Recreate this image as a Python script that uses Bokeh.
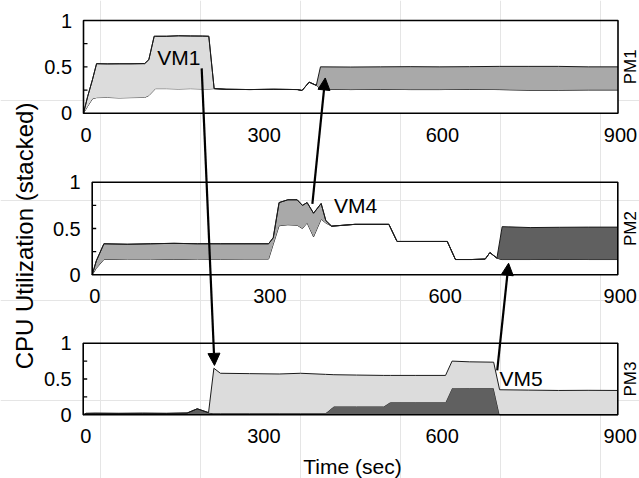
import math
import sys
import traceback
import numpy as np
from bokeh.plotting import figure
from bokeh.models import Range1d, ColumnDataSource, Arrow, NormalHead
from bokeh.core.properties import value
from bokeh.embed import file_html
from bokeh.resources import INLINE

# ---------------- data ----------------
x_ticks = [0, 300, 600, 900]
x_tick_labels = ["0", "300", "600", "900"]
y_ticks = [0, 0.5, 1]
y_tick_labels = ["0", "0.5", "1"]
y_minor_ticks = [0.25, 0.5, 0.75]
pm_names = ["PM1", "PM2", "PM3"]

# PM1: background load, VM1 (leaves ~220 s), VM4 (arrives ~395 s)
pm1_t = [0, 7, 15, 22, 40, 60, 80, 103, 110, 119, 121, 140, 160, 180, 200, 211, 220, 240,
         280, 320, 360, 368, 380, 392, 399, 450, 500, 550, 600, 650, 700, 750, 800, 850, 900]
pm1_base = [0, .075, .155, .168, .170, .165, .168, .170, .190, .250, .265, .265, .262, .265, .262,
            .262, .265, .258, .255, .258, .255, .245, .335, .300, .262, .255, .258, .255, .255,
            .258, .255, .250, .250, .252, .252]
pm1_vm1 = [0, .105, .205, .366, .362, .368, .365, .365, .387, .580, .565, .565, .573, .568, .570,
           .568, 0, 0, 0, 0, 0, 0, 0, 0, 0, 0, 0, 0, 0, 0, 0, 0, 0, 0, 0]
pm1_vm4 = [0, 0, 0, 0, 0, 0, 0, 0, 0, 0, 0, 0, 0, 0, 0, 0, 0, 0, 0, 0, 0, 0, 0, 0,
           .238, .243, .242, .247, .245, .244, .250, .255, .255, .248, .248]

# PM2: background load, VM4 (leaves ~405 s), VM5 (arrives ~695 s)
pm2_t = [0, 7, 20, 60, 100, 140, 180, 220, 260, 302, 310, 320, 335, 351, 360, 368, 379, 392,
         400, 410, 450, 508, 522, 560, 608, 622, 650, 673, 681, 693, 702, 750, 800, 850, 900]
pm2_base = [0, .07, .165, .17, .17, .165, .17, .168, .17, .17, .33, .53, .54, .535, .50, .56, .41,
            .60, .56, .525, .545, .545, .36, .36, .36, .165, .165, .17, .24, .18, .165, .165, .168,
            .165, .165]
pm2_vm4 = [0, .08, .17, .16, .165, .175, .165, .167, .165, .165, .07, .25, .27, .275, .25, .22,
           .255, .17, .026, 0, 0, 0, 0, 0, 0, 0, 0, 0, 0, 0, 0, 0, 0, 0, 0]
pm2_vm5 = [0, 0, 0, 0, 0, 0, 0, 0, 0, 0, 0, 0, 0, 0, 0, 0, 0, 0, 0, 0, 0, 0, 0, 0, 0, 0, 0, 0,
           0, 0, .355, .345, .345, .35, .35]

# PM3: VM5 (leaves ~700 s), VM1 (arrives ~215 s)
pm3_t = [0, 5, 20, 60, 100, 140, 175, 192, 211, 220, 231, 280, 330, 366, 408, 422, 460, 506,
         517, 560, 610, 621, 650, 691, 701, 750, 800, 850, 900]
pm3_vm5 = [0, .02, .022, .02, .022, .02, .025, .084, .03, .02, .02, .02, .02, .02, .02, .116,
           .116, .116, .176, .176, .176, .372, .37, .37, 0, 0, 0, 0, 0]
pm3_vm1 = [0, 0, 0, 0, 0, 0, 0, 0, 0, .63, .56, .555, .55, .56, .545, .444, .439, .434, .374,
           .374, .374, .378, .37, .365, .35, .345, .34, .342, .34]

# VM name labels: (panel, time of left edge, utilization of text centre)
vm_labels = ["VM1", "VM4", "VM5"]
vm_label_pos = [("PM1", 124, 0.603), ("PM2", 414, 0.75), ("PM3", 701, 0.504)]

# migration arrows: (panel, time, util) -> (panel, time, util)
migrations = [
    (("PM1", 199, 0.484), ("PM3", 221, 0.69)),
    (("PM2", 377, 0.767), ("PM1", 407, 0.38)),
    (("PM3", 697, 0.62), ("PM2", 713, 0.125)),
]

y_title = "CPU Utilization (stacked)"
x_title = "Time (sec)"

# ---------------- layout (canvas pixels) ----------------
W, H = 639, 478
T_MAX = 900
PANELS = {
    "PM1": dict(left=83.0, right=617.5, top=20.0, bottom=112.7),
    "PM2": dict(left=91.7, right=617.3, top=181.7, bottom=274.3),
    "PM3": dict(left=82.7, right=617.3, top=342.7, bottom=414.3),
}
FONT = "Liberation Sans"
C_LIGHT, C_MID, C_DARK = "#dcdcdc", "#a9a9a9", "#606060"
EDGE = "#1a1a1a"


def x_range_for(b):
    s = (b["right"] - b["left"]) / T_MAX
    return Range1d(start=-b["left"] / s, end=T_MAX + (W - b["right"]) / s)


def y_range_for(b):
    h = b["bottom"] - b["top"]
    return Range1d(start=(b["bottom"] - H) / h, end=b["bottom"] / h)


def to_px(name, t, u):
    b = PANELS[name]
    return (b["left"] + t * (b["right"] - b["left"]) / T_MAX,
            b["bottom"] - u * (b["bottom"] - b["top"]))


def build():
    xr = {"x" + n: x_range_for(PANELS[n]) for n in pm_names}
    yr = {"y" + n: y_range_for(PANELS[n]) for n in pm_names}
    p = figure(width=W, height=H, output_backend="svg", toolbar_location=None,
               x_range=Range1d(start=0, end=W), y_range=Range1d(start=H, end=0),
               x_axis_location=None, y_axis_location=None, min_border=0)
    p.extra_x_ranges = xr
    p.extra_y_ranges = yr
    p.outline_line_color = None
    p.background_fill_color = "white"
    p.border_fill_color = "white"

    panel_data = {
        "PM1": ([pm1_base, pm1_vm1, pm1_vm4], ["white", C_LIGHT, C_MID], pm1_t),
        "PM2": ([pm2_base, pm2_vm4, pm2_vm5], ["white", C_MID, C_DARK], pm2_t),
        "PM3": ([pm3_vm5, pm3_vm1], [C_DARK, C_LIGHT], pm3_t),
    }
    txt = dict(text_font=value(FONT), text_color="black", text_baseline="middle")

    for name in pm_names:
        layers, colors, ts = panel_data[name]
        rn = dict(x_range_name="x" + name, y_range_name="y" + name)
        lower = np.zeros(len(ts))
        for lay, col in zip(layers, colors):
            upper = lower + np.asarray(lay, dtype=float)
            src = ColumnDataSource(dict(t=list(ts), lo=list(lower), hi=list(upper)))
            p.varea(x="t", y1="lo", y2="hi", fill_color=col, source=src, **rn)
            p.line(x="t", y="hi", line_color=EDGE, line_width=1, source=src, **rn)
            lower = upper
        p.quad(left=[0], right=[T_MAX], bottom=[0], top=[1], fill_color=None,
               line_color="black", line_width=1.6, **rn)
        p.ray(x=[0] * len(y_minor_ticks), y=y_minor_ticks, length=4, length_units="screen",
              angle=0, line_color="black", line_width=1.3, **rn)

        yx, yy = [], []
        for u in y_ticks:
            px, py = to_px(name, 0, u)
            yx.append(px - 11.5)
            yy.append(py)
        p.text(x=yx, y=yy, text=y_tick_labels, text_align="right",
               text_font_size="20px", **txt)
        xx, xy = [], []
        for t in x_ticks:
            px, py = to_px(name, t, 0)
            xx.append(px + 2.5)
            xy.append(py + 21.4)
        p.text(x=xx, y=xy, text=x_tick_labels, text_align="center",
               text_font_size="20px", **txt)
        _, cy = to_px(name, T_MAX, 0.5)
        p.text(x=[W - 9.5], y=[cy], text=[name], angle=math.pi / 2, text_align="center",
               text_font_size="17px", **txt)

    lx, ly = [], []
    for (name, t, u) in vm_label_pos:
        px, py = to_px(name, t, u)
        lx.append(px)
        ly.append(py)
    p.text(x=lx, y=ly, text=vm_labels, text_align="left", text_font_size="21px", **txt)

    for (a, b) in migrations:
        x0, y0 = to_px(*a)
        x1, y1 = to_px(*b)
        p.add_layout(Arrow(x_start=x0, y_start=y0, x_end=x1, y_end=y1, line_color="black",
                           line_width=2.2,
                           end=NormalHead(size=12, fill_color="black", line_color="black")))

    _, cy2 = to_px("PM2", 0, 0.5)
    p.text(x=[23.5], y=[cy2 + 7.5], text=[y_title], angle=math.pi / 2, text_align="center",
           text_font_size="24px", **txt)
    cx3, _ = to_px("PM3", 450, 0)
    p.text(x=[cx3 + 2], y=[465.5], text=[x_title], text_align="center",
           text_font_size="21px", **txt)
    return p


try:
    plot = build()
    html = file_html(plot, INLINE)
except Exception:
    traceback.print_exc()
    sys.stdout.flush()
    raise

open("out.html", "w").write(html)
